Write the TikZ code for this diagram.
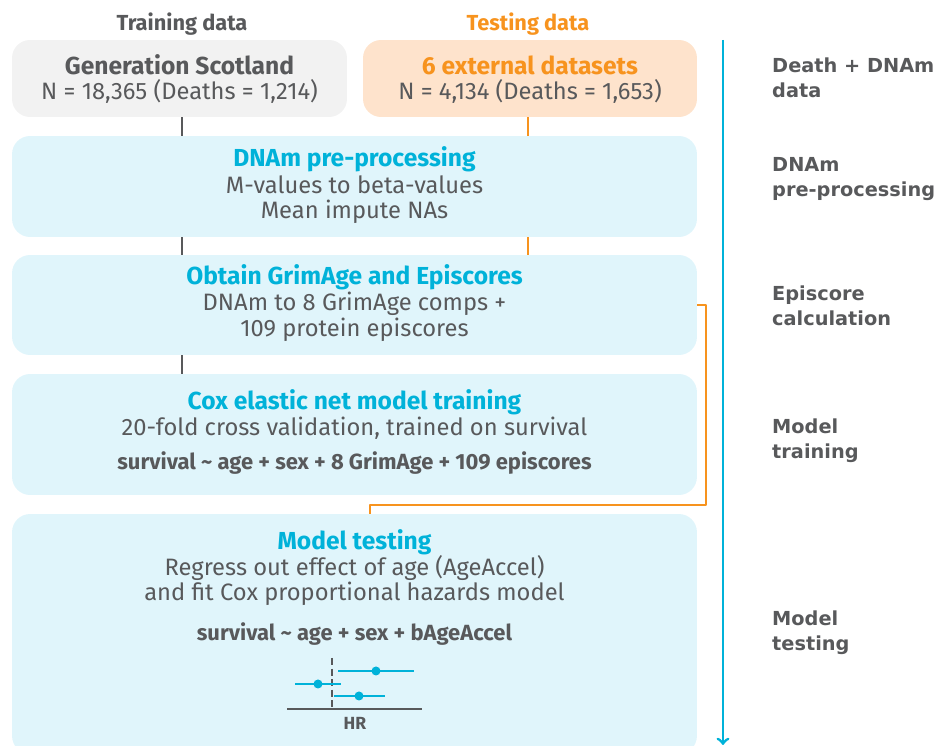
\documentclass[tikz,border=0pt]{standalone}
\usepackage{fontspec}
\setmainfont{Fira Sans}
\newfontfamily\labelfont{DejaVu Sans}
\usetikzlibrary{calc}
\definecolor{txtgray}{RGB}{88,89,91}
\definecolor{stepcyan}{RGB}{0,178,217}
\definecolor{testorange}{RGB}{247,147,30}
\definecolor{peach}{RGB}{254,227,204}
\definecolor{palegray}{RGB}{242,242,242}
\definecolor{paleblue}{RGB}{224,245,251}
\begin{document}
\begin{tikzpicture}[x=0.02cm,y=-0.02cm,line join=round,font=\fontsize{13.5}{15}\selectfont,text=txtgray,
	box/.style={rounded corners=0.36cm,inner sep=0pt,fill=paleblue},
	title/.style={font=\fontsize{14}{16}\selectfont\bfseries,text=stepcyan},
	formula/.style={font=\fontsize{12.5}{14}\selectfont\bfseries},
	head/.style={font=\fontsize{12.4}{14}\selectfont\bfseries},
	stage/.style={font=\labelfont\fontsize{11}{14.5}\selectfont\bfseries,anchor=west,align=left},
	trainline/.style={draw=txtgray,line width=1.6pt},
	testline/.style={draw=testorange,line width=1.6pt},
	ci/.style={draw=stepcyan,line width=1.6pt}]
	\useasboundingbox (0,0) rectangle (938,746);
	% data boxes
	\node[box,fill=palegray,minimum width=6.7cm,minimum height=1.54cm] (gs) at (179.5,78.5){};
	\node[box,fill=peach,minimum width=6.68cm,minimum height=1.54cm] (ext) at (530,78.5){};
	\node[head] (trainhead) at (182,24){Training data};
	\node[head,text=testorange] (testhead) at (528,24){Testing data};
	\node[font=\fontsize{14}{16}\selectfont\bfseries] (gstitle) at (gs.center |- 0,65){Generation Scotland};
	\node (gsn) at (gs.center |- 0,91){N = 18,365 (Deaths = 1,214)};
	\node[font=\fontsize{14}{16}\selectfont\bfseries,text=testorange] (exttitle) at (ext.center |- 0,65){6 external datasets};
	\node (extn) at (ext.center |- 0,91){N = 4,134 (Deaths = 1,653)};
	% pipeline steps
	\node[box,minimum width=13.7cm,minimum height=2.02cm] (prep) at (354.5,186.5){};
	\node[title] (preptitle) at (prep.center |- 0,159){DNAm pre-processing};
	\node (prepa) at (prep.center |- 0,185){M-values to beta-values};
	\node (prepb) at (prep.center |- 0,212){Mean impute NAs};
	\node[box,minimum width=13.7cm,minimum height=2.0cm] (eps) at (354.5,305){};
	\node[title] (epstitle) at (eps.center |- 0,277){Obtain GrimAge and Episcores};
	\node (epsa) at (eps.center |- 0,304){DNAm to 8 GrimAge comps +};
	\node (epsb) at (eps.center |- 0,330){109 protein episcores};
	\node[box,minimum width=13.7cm,minimum height=2.42cm] (cox) at (354.5,434.5){};
	\node[title] (coxtitle) at (cox.center |- 0,402){Cox elastic net model training};
	\node (coxa) at (cox.center |- 0,428){20-fold cross validation, trained on survival};
	\node[formula] (coxb) at (cox.center |- 0,463){survival \textasciitilde{} age + sex + 8 GrimAge + 109 episcores};
	\node[box,minimum width=13.7cm,minimum height=4.8cm] (test) at (354.5,634){};
	\node[title] (testtitle) at (test.center |- 0,542){Model testing};
	\node (testa) at (test.center |- 0,568){Regress out effect of age (AgeAccel)};
	\node (testb) at (test.center |- 0,594){and fit Cox proportional hazards model};
	\node[formula] (testc) at (test.center |- 0,634){survival \textasciitilde{} age + sex + bAgeAccel};
	% connectors
	\draw[trainline] (gs.south -| 182,0) -- (prep.north -| 182,0);
	\draw[trainline] (prep.south -| 182,0) -- (eps.north -| 182,0);
	\draw[trainline] (eps.south -| 182,0) -- (cox.north -| 182,0);
	\draw[testline] (ext.south -| 528,0) -- (prep.north -| 528,0);
	\draw[testline] (prep.south -| 528,0) -- (eps.north -| 528,0);
	\coordinate (bend) at (706,505);
	\draw[testline] (eps.east) -| (bend) -| (test.north -| 370,0);
	% forest plot
	\draw[trainline,line width=1.3pt] (287,709) coordinate (axl) -- (422,709) coordinate (axr);
	\draw[trainline,line width=1.1pt,dash pattern=on 4pt off 2pt] (332,658) -- (332,709);
	\draw[ci] (338,671) -- (414,671);
	\fill[stepcyan] (376,671) circle (4.5);
	\draw[ci] (295,684) -- (341,684);
	\fill[stepcyan] (318,684) circle (4.5);
	\draw[ci] (334,696) -- (385,696);
	\fill[stepcyan] (359,696) circle (4.5);
	\node[font=\fontsize{10}{12}\selectfont\bfseries] (hr) at (355,723){HR};
	% stage timeline
	\coordinate (tltop) at (723,40);
	\coordinate (tlbot) at (723,745);
	\draw[stepcyan,line width=1.6pt,->] (tltop) -- (tlbot);
	\node[stage] (s1) at (766,78){Death + DNAm\\data};
	\node[stage] (s2) at (766,179){DNAm\\pre-processing};
	\node[stage] (s3) at (766,306){Episcore\\calculation};
	\node[stage] (s4) at (766,441){Model\\training};
	\node[stage] (s5) at (766,633){Model\\testing};
\end{tikzpicture}
\end{document}
